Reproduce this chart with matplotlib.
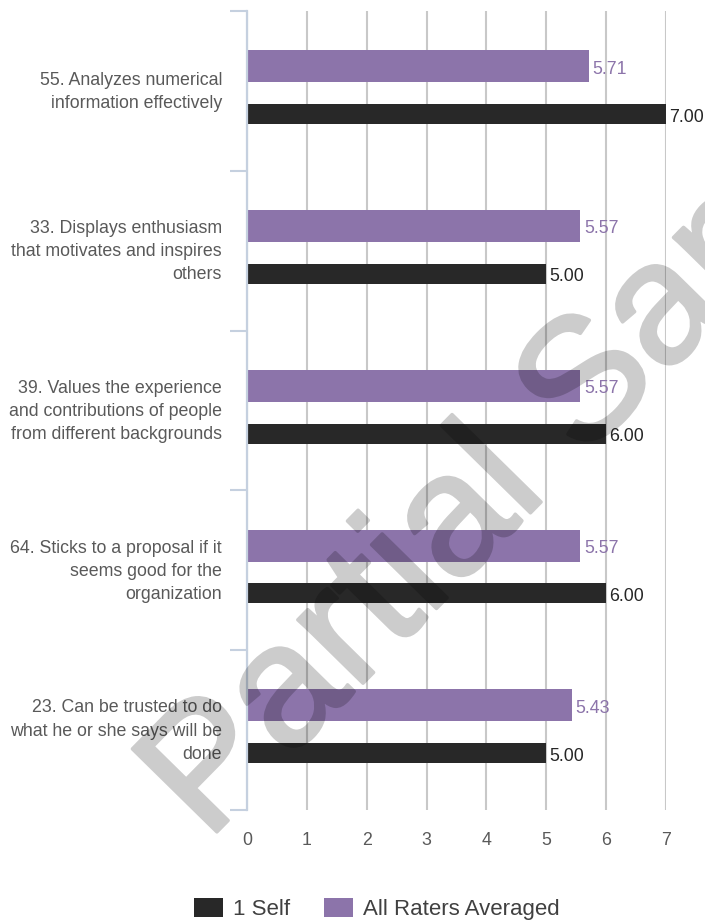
import matplotlib
matplotlib.use("Agg")
import matplotlib.pyplot as plt
import matplotlib.patheffects as pe
from matplotlib.patches import Patch
from matplotlib.transforms import ScaledTranslation

plt.rcParams['font.family'] = ['Liberation Sans', 'DejaVu Sans']

# Data
categories = [
    "55. Analyzes numerical\ninformation effectively",
    "33. Displays enthusiasm\nthat motivates and inspires\nothers",
    "39. Values the experience\nand contributions of people\nfrom different backgrounds",
    "64. Sticks to a proposal if it\nseems good for the\norganization",
    "23. Can be trusted to do\nwhat he or she says will be\ndone",
]
all_raters = [5.71, 5.57, 5.57, 5.57, 5.43]
self_scores = [7.00, 5.00, 6.00, 6.00, 5.00]
x_ticks = [0, 1, 2, 3, 4, 5, 6, 7]
series_names = ["1 Self", "All Raters Averaged"]

PURPLE = "#8c74aa"
DARK = "#282828"
TEXT = "#595959"
SPINE = "#c5d0df"
GRID = "#c8c8c8"

W, H = 705, 924
fig = plt.figure(figsize=(W / 100, H / 100), dpi=100)
ax = fig.add_axes([247 / W, 1 - 810 / H, (666 - 247) / W, (810 - 11) / H])

ypos = list(range(len(categories)))
y_purple = [y - 0.155 for y in ypos]
y_dark = [y + 0.145 for y in ypos]

ax.barh(y_purple, all_raters, height=0.2, color=PURPLE, zorder=3)
ax.barh(y_dark, self_scores, height=0.125, color=DARK, zorder=3)

for y, v in zip(y_purple, all_raters):
    ax.annotate(f"{v:.2f}", xy=(v, y), xytext=(2.5, -2.2), textcoords="offset points",
                va="center", ha="left", fontsize=12.8, color=PURPLE, zorder=4)
for y, v in zip(y_dark, self_scores):
    ax.annotate(f"{v:.2f}", xy=(v, y), xytext=(2.5, -2.2), textcoords="offset points",
                va="center", ha="left", fontsize=12.8, color="#262626", zorder=4)

ax.set_xlim(0, 7)
ax.set_ylim(len(categories) - 0.5, -0.5)

ax.set_xticks(x_ticks)
ax.set_xticklabels([str(t) for t in x_ticks])
ax.tick_params(axis="x", length=0, pad=15.5, labelsize=12.8, labelcolor=TEXT)

ax.set_yticks(ypos)
ax.set_yticklabels(categories, fontsize=12.8, color=TEXT, linespacing=1.48)
ax.set_yticks([y - 0.5 for y in range(len(categories) + 1)], minor=True)
ax.tick_params(axis="y", which="major", length=0, pad=18)
ax.tick_params(axis="y", which="minor", length=12.2, width=1.5, color=SPINE, direction="out")
# nudge the category labels up slightly
lift = ScaledTranslation(0, 3 / 72, fig.dpi_scale_trans)
for lbl in ax.get_yticklabels():
    lbl.set_transform(lbl.get_transform() + lift)

ax.grid(axis="x", color=GRID, linewidth=1.5, zorder=0)
ax.set_axisbelow(True)
for s in ("top", "right", "bottom"):
    ax.spines[s].set_visible(False)
ax.spines["left"].set_color(SPINE)
ax.spines["left"].set_linewidth(1.6)
ax.spines["left"].set_zorder(5)

handles = [Patch(facecolor=DARK, edgecolor="none"), Patch(facecolor=PURPLE, edgecolor="none")]
fig.legend(handles, series_names, loc="center left", bbox_to_anchor=(194 / W, 1 - 909 / H),
           ncol=2, frameon=False, fontsize=16, borderpad=0, borderaxespad=0,
           handlelength=1.3, handleheight=0.95, handletextpad=0.45, columnspacing=1.55,
           labelcolor="#404040")


# Watermark: drawn opaque into its own buffer, then faded as a whole so the
# thickened outline and the fill do not stack up.
def fade(img, dpi):
    out = img.copy()
    out[..., 3] *= 0.2
    return out, 0, 0


wm = fig.text(207 / W, 1 - 842 / H, "Partial Sample", fontsize=124,
              color="black", rotation=45.5, rotation_mode="anchor",
              ha="left", va="baseline", zorder=10)
wm.set_path_effects([pe.Stroke(linewidth=2.5, foreground="black"), pe.Normal()])
wm.set_agg_filter(fade)

fig.savefig("out.png", dpi=100)
